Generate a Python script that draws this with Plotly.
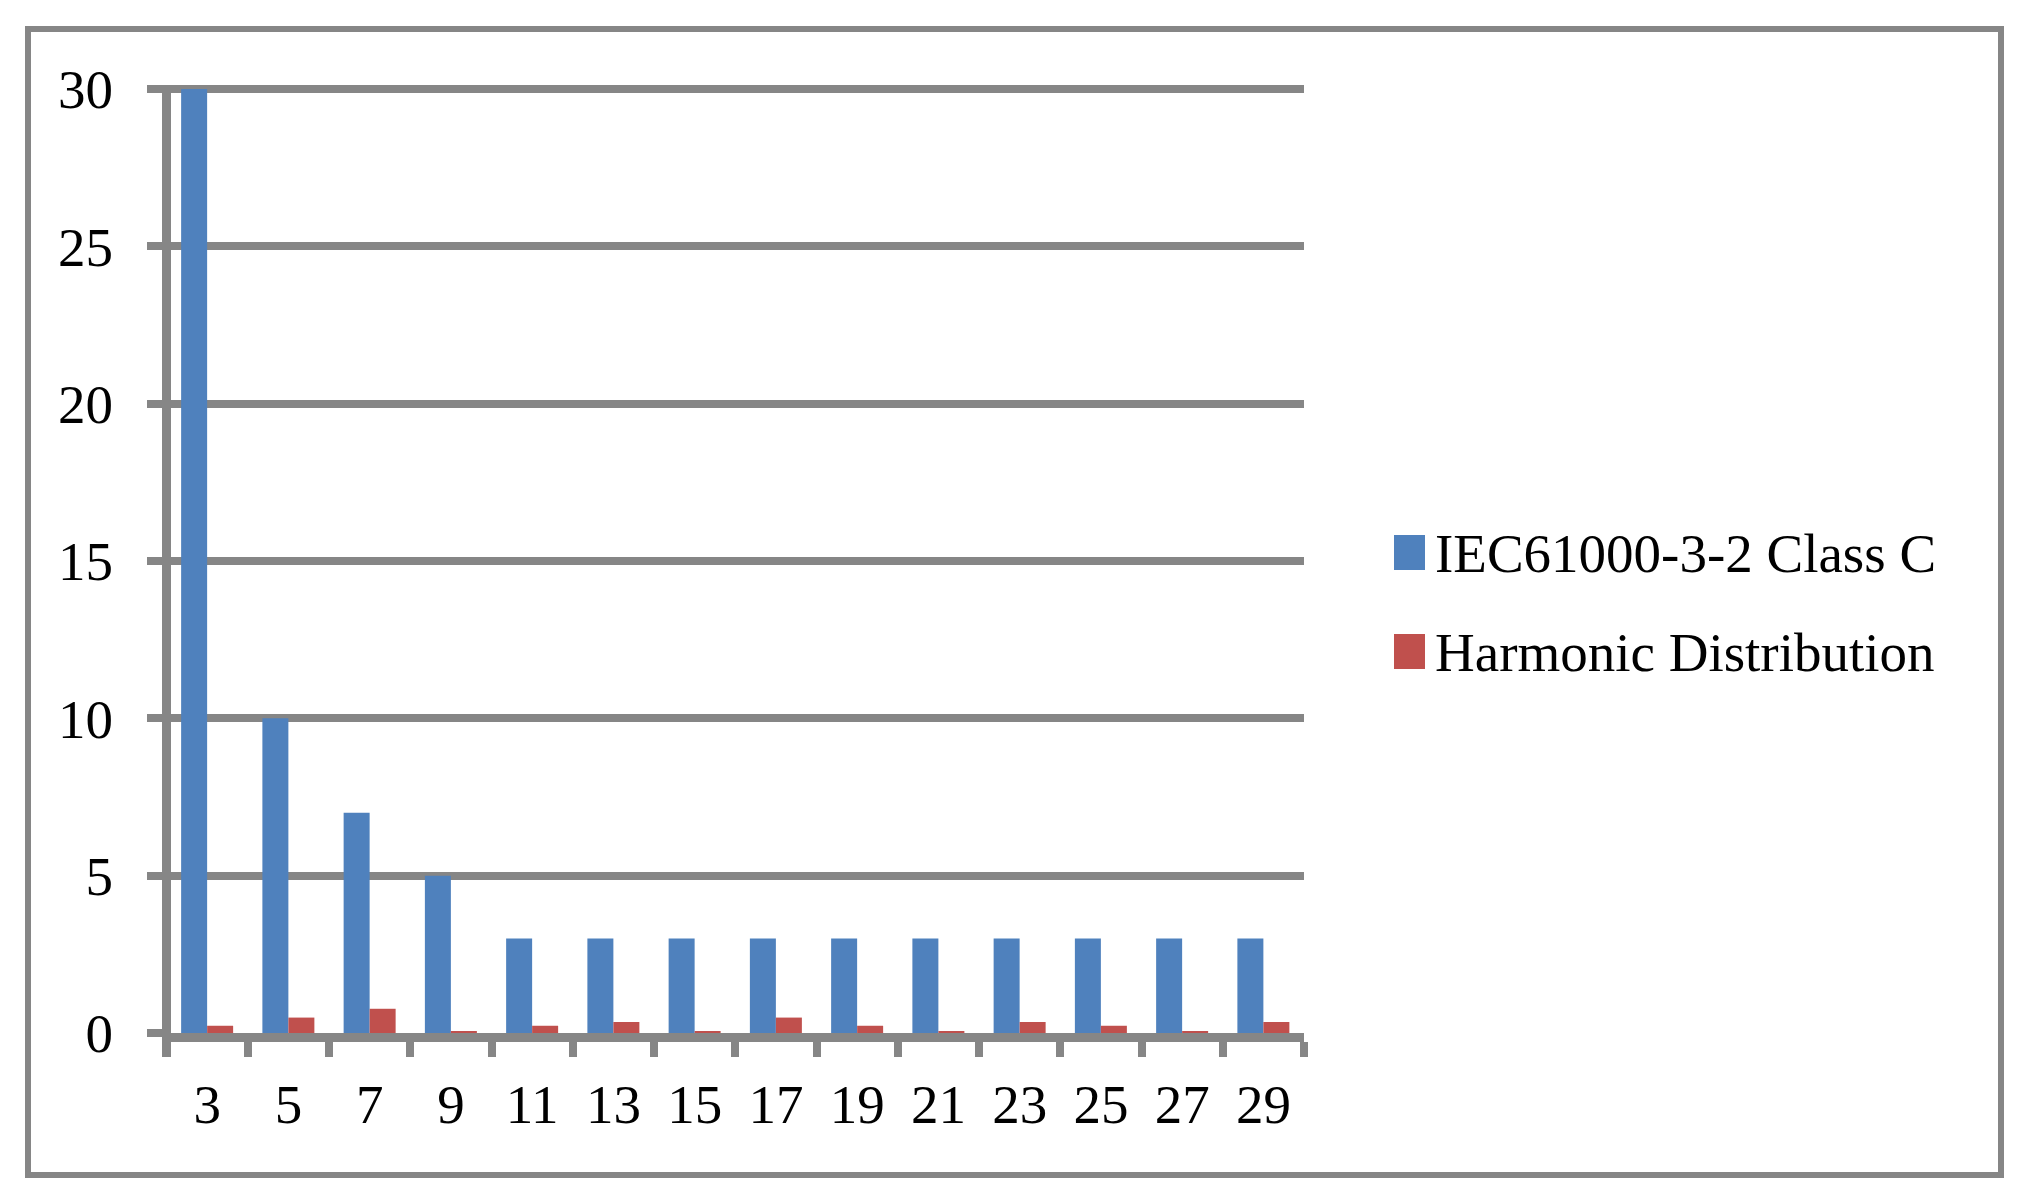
import plotly.graph_objects as go

# ---- data ----
harmonics = ["3", "5", "7", "9", "11", "13", "15", "17", "19", "21", "23", "25", "27", "29"]
iec_limits = [30, 10, 7, 5, 3, 3, 3, 3, 3, 3, 3, 3, 3, 3]
harmonic_dist = [0.23, 0.49, 0.77, 0.06, 0.23, 0.35, 0.06, 0.49, 0.23, 0.06, 0.35, 0.23, 0.06, 0.35]
series_names = ["IEC61000-3-2 Class C", "Harmonic Distribution"]
series_colors = ["#4F81BD", "#C0504D"]
y_ticks = [0, 5, 10, 15, 20, 25, 30]

# ---- geometry (figure sits 8px inside the page because of the body margin) ----
OFF = 8
W, H = 2014, 1184
L, T = 163, 77                 # plot left / top in figure pixels
PLOT_RIGHT, PLOT_BOTTOM = 1296, 1025
R, B = W - PLOT_RIGHT, H - PLOT_BOTTOM
PW, PH = W - L - R, H - T - B
UNIT = (PLOT_BOTTOM - 81) / 30.0          # pixels per y unit (30 gridline at 81)
Y_TOP = PH / UNIT
AXLINE_X = 158.5                           # y-axis line centre (figure px)
CAT = (PLOT_RIGHT - AXLINE_X) / 14.0
X_START = -0.5 + (L - AXLINE_X) / CAT

GRAY = "#868686"
FONT = "Liberation Serif"


def px_x(px):
    """reference page pixel -> paper x"""
    return (px - OFF - L) / PW


def px_y(py):
    """reference page pixel -> paper y"""
    return (PLOT_BOTTOM - (py - OFF)) / PH


fig = go.Figure()
for name, vals, col in zip(series_names, [iec_limits, harmonic_dist], series_colors):
    fig.add_trace(go.Bar(x=harmonics, y=vals, name=name, marker_color=col,
                         marker_line_width=0, showlegend=False))

shapes = []
annotations = []
# outer frame
shapes.append(dict(type="rect", xref="paper", yref="paper",
                   x0=px_x(28), x1=px_x(2001), y0=px_y(1175), y1=px_y(29),
                   line=dict(color=GRAY, width=6), fillcolor="rgba(0,0,0,0)", layer="below"))
# corner tick continuing the value axis below the category axis
shapes.append(dict(type="line", xref="paper", yref="paper",
                   x0=px_x(AXLINE_X + OFF), x1=px_x(AXLINE_X + OFF),
                   y0=px_y(1036), y1=px_y(1057), line=dict(color=GRAY, width=9)))
# manual legend
legend_rows = [553, 652]
for name, col, cy in zip(series_names, series_colors, legend_rows):
    shapes.append(dict(type="rect", xref="paper", yref="paper",
                       x0=px_x(1394), x1=px_x(1425), y0=px_y(cy + 17), y1=px_y(cy - 18),
                       line=dict(width=0), fillcolor=col))
    annotations.append(dict(text=name, xref="paper", yref="paper", x=px_x(1433), y=px_y(cy),
                            xanchor="left", yanchor="middle", showarrow=False,
                            font=dict(family=FONT, size=55, color="black")))

fig.update_layout(
    width=W, height=H,
    margin=dict(l=L, r=R, t=T, b=B, pad=0),
    paper_bgcolor="white", plot_bgcolor="white",
    barmode="group", bargap=0.36, bargroupgap=0,
    shapes=shapes, annotations=annotations,
    showlegend=False,
    xaxis=dict(type="category", range=[X_START, 13.5], showgrid=False, zeroline=False,
               showline=True, linecolor=GRAY, linewidth=9,
               ticks="outside", tickson="boundaries", ticklen=15, tickwidth=8, tickcolor=GRAY,
               ticklabelstandoff=15,
               tickfont=dict(family=FONT, size=55, color="black"), fixedrange=True),
    yaxis=dict(range=[0, Y_TOP], tickvals=y_ticks, showgrid=True, gridcolor=GRAY, gridwidth=8,
               zeroline=False, showline=True, linecolor=GRAY, linewidth=9,
               ticks="outside", ticklen=15, tickwidth=8, tickcolor=GRAY,
               ticklabelstandoff=23,
               tickfont=dict(family=FONT, size=55, color="black"), fixedrange=True),
)

fig.write_html("out.html")
